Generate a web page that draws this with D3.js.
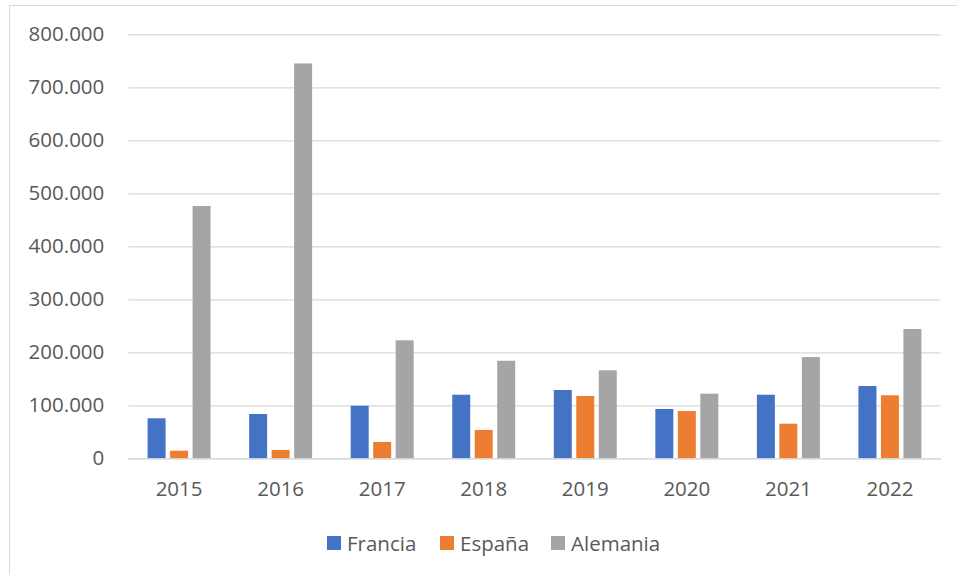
<!DOCTYPE html>
<html><head><meta charset="utf-8">
<script src="https://cdn.jsdelivr.net/npm/d3@7"></script>
<style>body{margin:0;background:#fff;} svg{display:block;font-family:"Open Sans",sans-serif;}</style>
</head><body>
<script>
const categories = ["2015","2016","2017","2018","2019","2020","2021","2022"];
const seriesNames = ["Francia","España","Alemania"];
const francia = [75500, 83600, 99200, 120000, 128900, 93000, 120000, 136400];
const espana = [14300, 15700, 30800, 53400, 117500, 89200, 65300, 118900];
const alemania = [476000, 745000, 222600, 184000, 166000, 121900, 191000, 244000];
const yTicks = [0,100000,200000,300000,400000,500000,600000,700000,800000];
const colors = ["#4472C4","#ED7D31","#A5A5A5"];

(function(){
const series = [francia, espana, alemania];
const W = 957, H = 575;
const FS = 20.5;
const svg = d3.select("body").append("svg").attr("width", W).attr("height", H);

svg.append("rect").attr("x",9.5).attr("y",5.5).attr("width",1200).attr("height",1200)
  .attr("fill","#fff").attr("stroke","#d9d9d9").attr("stroke-width",1);

const mL = 128.3, mR = 940.7, mT = 34.3, mB = 458.3;
const y = d3.scaleLinear().domain([0,800000]).range([mB, mT]);
const x0 = d3.scaleBand().domain(categories).range([mL,mR]).paddingInner(0.38).paddingOuter(0.19);
const x1 = d3.scaleBand().domain(seriesNames).range([0, x0.bandwidth()]).paddingInner(0.2);

const fmt = v => v === 0 ? "0" : d3.format(",")(v).replace(/,/g, ".");

const yAxis = d3.axisLeft(y).tickValues(yTicks).tickSize(-(mR-mL)).tickFormat(fmt).tickPadding(24);
const ga = svg.append("g").attr("transform",`translate(${mL},0)`).call(yAxis);
ga.select(".domain").remove();
ga.selectAll(".tick line").attr("stroke","#d9d9d9").attr("stroke-width",1.3);
ga.selectAll(".tick text").attr("fill","#595959").attr("font-size",FS).attr("font-family","Open Sans, sans-serif");

const groups = svg.append("g").selectAll("g").data(categories).join("g")
  .attr("transform", c => `translate(${x0(c)},0)`);
groups.selectAll("rect").data((c,i) => seriesNames.map((s,j) => ({s, v: series[j][i], j})))
  .join("rect")
  .attr("x", d => x1(d.s))
  .attr("width", x1.bandwidth())
  .attr("y", d => y(d.v))
  .attr("height", d => y(0) - y(d.v))
  .attr("fill", d => colors[d.j]);

const xAxis = d3.axisBottom(x0).tickSize(0).tickPadding(23);
const gx = svg.append("g").attr("transform",`translate(0,${mB})`).call(xAxis);
gx.select(".domain").attr("stroke","#d9d9d9").attr("stroke-width",1.3);
gx.selectAll(".tick text").attr("fill","#595959").attr("font-size",FS).attr("font-family","Open Sans, sans-serif");

const legendX = [327, 440, 551];
const lg = svg.append("g").selectAll("g").data(seriesNames).join("g")
  .attr("transform",(d,i)=>`translate(${legendX[i]},536)`);
lg.append("rect").attr("width",14).attr("height",14).attr("fill",(d,i)=>colors[i]);
lg.append("text").attr("x",20).attr("y",14.5).text(d=>d)
  .attr("fill","#595959").attr("font-size",FS);
})();
</script>
</body></html>
